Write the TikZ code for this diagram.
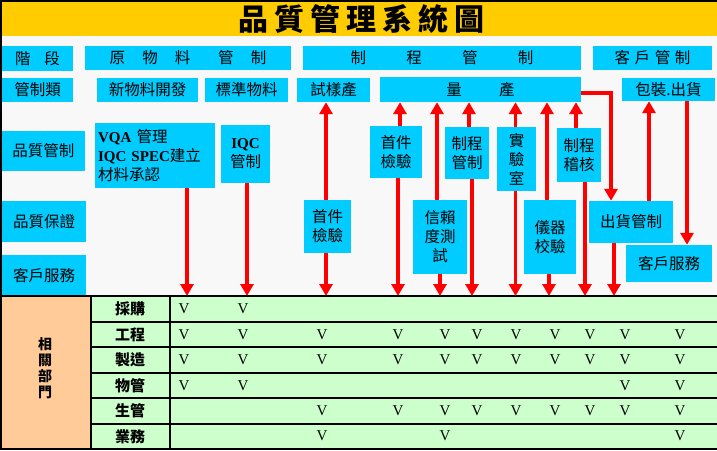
\documentclass[tikz,border=0pt]{standalone}
\usepackage{fontspec}
\setmainfont{Liberation Serif}
\newfontfamily\cjk{Noto Sans CJK TC}
\usetikzlibrary{arrows.meta}
\definecolor{bxc}{HTML}{00CCFF}
\definecolor{ttl}{HTML}{FFCC00}
\definecolor{grn}{HTML}{CCFFCC}
\definecolor{org}{HTML}{FFCC99}
\definecolor{bgc}{HTML}{F8F8F8}
\newcommand\bx[6]{\node[box,minimum width={(#4-#2)*1pt},minimum height={(#5-#3)*1pt}] (#1) at ({(#2+#4)/2},{(#3+#5)/2}) {#6};}
\newcommand\lb[1]{{\rmfamily\bfseries\fontsize{15}{19}\selectfont #1}}
\tikzset{
  box/.style={fill=bxc, inner sep=0pt, align=center, font=\cjk\fontsize{15.5}{19}\selectfont},
  arr/.style={red, line width=3.2pt, -{Triangle[width=13pt,length=12pt]}},
  vm/.style={font=\rmfamily\fontsize{15}{15}\selectfont, inner sep=0pt},
  rl/.style={font=\cjk\bfseries\fontsize{15}{17}\selectfont, inner sep=0pt},
  tline/.style={line width=1.2pt, black}
}
\begin{document}
\begin{tikzpicture}[x=1pt,y=-1pt]
\useasboundingbox (0,0) rectangle (717,450);
\fill[bgc] (0,0) rectangle (717,450);
% title bar
\fill[ttl] (0,0) rectangle (717,36);
\node[font=\cjk\bfseries\fontsize{30}{32}\selectfont, inner sep=0pt] (title) at (361,19) {品\hspace{6pt}質\hspace{6pt}管\hspace{6pt}理\hspace{6pt}系\hspace{6pt}統\hspace{6pt}圖};
% row 1
\bx{s1}{2}{46}{73}{71}{階\hspace{0.9em}段}
\bx{s2}{85}{46}{291}{70}{原\hspace{1.1em}物\hspace{1.1em}料\hspace{1.8em}管\hspace{1.1em}制}
\bx{s3}{303}{46}{581}{70}{制\hspace{2.6em}程\hspace{2.6em}管\hspace{2.6em}制}
\bx{s4}{593}{46}{712}{70}{客\hspace{.3em}戶\hspace{.3em}管\hspace{.3em}制}
% row 2
\bx{k0}{2}{78}{73}{102}{管制類}
\bx{k1}{97}{78}{198}{102}{新物料開發}
\bx{k2}{205}{78}{288}{102}{標準物料}
\bx{k3}{297}{78}{370}{102}{試樣產}
\bx{mp}{380}{77}{581}{102}{量\hspace{2.4em}產}
\bx{pk}{622}{78}{715}{101}{包裝.出貨}
% left labels
\bx{q1}{2}{131}{85}{171}{品質管制}
\bx{q2}{2}{201}{86}{242}{品質保證}
\bx{q3}{2}{255}{86}{296}{客戶服務}
% process boxes
\node[box,align=left,minimum width=120pt,minimum height=65pt,text width=114pt] (vqa) at (155,155.5) {\lb{VQA} 管理\\\lb{IQC SPEC}建立\\材料承認};
\bx{iqc}{221}{125}{270}{183}{\lb{IQC}\\管制}
\bx{f1}{304}{200}{351}{253}{首件\\檢驗}
\bx{f2}{370}{126}{422}{178}{首件\\檢驗}
\bx{rt}{413}{200}{467}{274}{信賴\\度測\\試}
\bx{pc}{445}{127}{489}{179}{制程\\管制}
\bx{lab}{497}{127}{536}{191}{實\\驗\\室}
\bx{cal}{524}{200}{576}{274}{儀器\\校驗}
\bx{au}{557}{128}{601}{182}{制程\\稽核}
\bx{sc}{589}{201}{673}{243}{出貨管制}
\bx{cs}{626}{245}{712}{282}{客戶服務}
% table
\fill[org] (0,296) rectangle (91,449);
\fill[grn] (91,296) rectangle (717,449);
\draw[tline] (0,296) -- (717,296);
\foreach \yy in {322,347,373,398,424} {\draw[tline] (91,\yy) -- (717,\yy);}
\draw[tline] (91,296) -- (91,449);
\draw[tline] (170,296) -- (170,449);
\draw[line width=2.5pt] (717,0.8) -- (1.2,0.8) -- (1.2,448.8) -- (717,448.8);
% arrows
\coordinate (a1) at (187,296);
\coordinate (a2) at (247,296);
\draw[arr] (vqa.south -| a1) -- (a1);
\draw[arr] (iqc.south -| a2) -- (a2);
\draw[arr] ([xshift=-1.5pt]f1.north) -- ([xshift=-1.5pt]f1.north |- k3.south);
\draw[arr] ([xshift=-1.5pt]f1.south) -- ([xshift=-1.5pt]f1.south |- a1);
\draw[arr] ([xshift=4pt]f2.north) -- ([xshift=4pt]f2.north |- mp.south);
\draw[arr] ([xshift=2pt]f2.south) -- ([xshift=2pt]f2.south |- a1);
\draw[arr] ([xshift=-3pt]rt.north) -- ([xshift=-3pt]rt.north |- mp.south);
\draw[arr] (rt.south) -- (rt.south |- a1);
\draw[arr] ([xshift=2pt]pc.north) -- ([xshift=2pt]pc.north |- mp.south);
\draw[arr] ([xshift=5pt]pc.south) -- ([xshift=5pt]pc.south |- a1);
\draw[arr] ([xshift=-1pt]lab.north) -- ([xshift=-1pt]lab.north |- mp.south);
\draw[arr] ([xshift=-1pt]lab.south) -- ([xshift=-1pt]lab.south |- a1);
\draw[arr] ([xshift=-3pt]cal.north) -- ([xshift=-3pt]cal.north |- mp.south);
\draw[arr] ([xshift=-1pt]cal.south) -- ([xshift=-1pt]cal.south |- a1);
\draw[arr] ([xshift=-3pt]au.north) -- ([xshift=-3pt]au.north |- mp.south);
\draw[arr] ([xshift=6pt]au.south) -- ([xshift=6pt]au.south |- a1);
\draw[arr] ([yshift=-3.5pt]mp.east) -| ([xshift=-20pt]sc.north);
\draw[arr] ([xshift=-17pt]sc.south) -- ([xshift=-17pt]sc.south |- a1);
\draw[arr] ([xshift=18pt]sc.north) -- ([xshift=18pt]sc.north |- pk.south);
\draw[arr] ([xshift=18.5pt]pk.south) -- ([xshift=18.5pt]pk.south |- cs.north);
% table labels
\node[font=\cjk\bfseries\fontsize{14}{16}\selectfont, align=center, inner sep=0pt] (dept) at (45,368) {相\\關\\部\\門};
\node[rl] (r1) at (130,309) {採購};
\node[rl] (r2) at (130,334.5) {工程};
\node[rl] (r3) at (130,360) {製造};
\node[rl] (r4) at (130,385.5) {物管};
\node[rl] (r5) at (130,411) {生管};
\node[rl] (r6) at (130,436.5) {業務};
% V marks
\def\cx{{0,184,243,322,398,445,477,516,555,590,625,680}}
\def\ry{{0,309,335,360,386,411,436}}
\foreach \r/\cols in {1/{1,2},2/{1,2,3,4,5,6,7,8,9,10,11},3/{1,2,3,4,5,6,7,8,9,10,11},4/{1,2,10,11},5/{3,4,5,6,7,8,9,10,11},6/{3,5,11}} {
  \foreach \c in \cols {
    \pgfmathsetmacro\vx{\cx[\c]}
    \pgfmathsetmacro\vy{\ry[\r]}
    \node[vm] (v-\r-\c) at (\vx,\vy) {V};
  }
}
\end{tikzpicture}
\end{document}
